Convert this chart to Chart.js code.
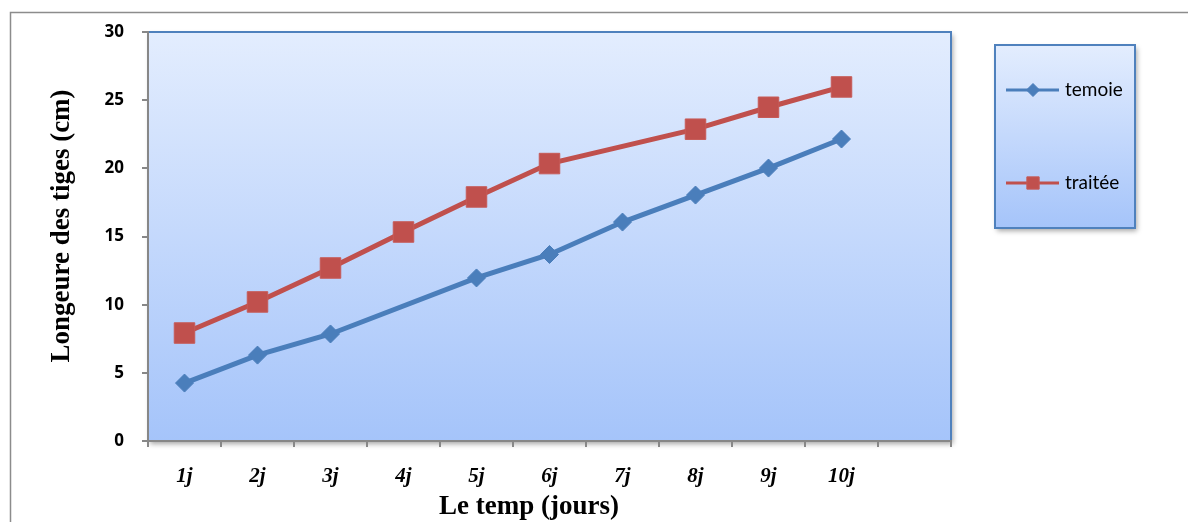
<!DOCTYPE html>
<html>
<head>
<meta charset="utf-8">
<script src="https://cdn.jsdelivr.net/npm/chart.js@4.4.1/dist/chart.umd.min.js"></script>
<style>
  html, body { margin: 0; padding: 0; background: #ffffff; }
  #wrap { width: 1188px; height: 522px; position: relative; }
</style>
</head>
<body>
<div id="wrap"><canvas id="c"></canvas></div>
<script>
// ---- data ----
const categories = ['1j', '2j', '3j', '4j', '5j', '6j', '7j', '8j', '9j', '10j', ''];
const temoie = [4.25, 6.3, 7.85, null, 11.96, 13.68, 16.06, 18.04, 20.02, 22.15];
const traitee = [7.92, 10.2, 12.69, 15.33, 17.9, 20.35, null, 22.87, 24.48, 25.97];
const seriesNames = ['temoie', 'traitée'];
const yTicks = [0, 5, 10, 15, 20, 25, 30];
const xTitle = 'Le temp (jours)';
const yTitle = 'Longeure des tiges (cm)';

const BLUE = '#4A7EBB';
const RED = '#C0504D';
const AXIS = '#878787';

function plotGradient(ctx, top, bottom) {
  const g = ctx.createLinearGradient(0, top, 0, bottom);
  g.addColorStop(0, '#E3EDFE');
  g.addColorStop(1, '#A5C4FA');
  return g;
}

const decor = {
  id: 'decor',
  beforeDraw(chart) {
    const { ctx, chartArea: a } = chart;
    ctx.save();
    // outer chart border
    ctx.strokeStyle = '#8C8C8C';
    ctx.lineWidth = 1.5;
    ctx.strokeRect(10.5, 12.5, 1300, 600);
    // plot area with shadow
    ctx.shadowColor = 'rgba(0,0,0,0.35)';
    ctx.shadowBlur = 5;
    ctx.shadowOffsetX = 2;
    ctx.shadowOffsetY = 3;
    ctx.fillStyle = plotGradient(ctx, a.top, a.bottom);
    ctx.fillRect(a.left, a.top, a.right - a.left, a.bottom - a.top);
    ctx.restore();
    ctx.save();
    ctx.strokeStyle = '#4F81BD';
    ctx.lineWidth = 2;
    ctx.beginPath();
    ctx.moveTo(a.left, a.top);
    ctx.lineTo(a.right, a.top);
    ctx.lineTo(a.right, a.bottom);
    ctx.stroke();
    ctx.restore();
  },
  afterDraw(chart) {
    const { ctx } = chart;
    ctx.save();
    // axis titles
    ctx.fillStyle = '#000';
    ctx.font = 'bold 27px "Liberation Serif", serif';
    ctx.textAlign = 'center';
    ctx.textBaseline = 'alphabetic';
    ctx.fillText(xTitle, 529, 514);
    ctx.translate(69, 226);
    ctx.rotate(-Math.PI / 2);
    ctx.fillText(yTitle, 0, 0);
    ctx.restore();

    // legend box
    const lx = 995, ly = 45, lw = 140, lh = 183;
    ctx.save();
    ctx.shadowColor = 'rgba(0,0,0,0.35)';
    ctx.shadowBlur = 5;
    ctx.shadowOffsetX = 2;
    ctx.shadowOffsetY = 3;
    ctx.fillStyle = plotGradient(ctx, ly, ly + lh);
    ctx.fillRect(lx, ly, lw, lh);
    ctx.restore();
    ctx.save();
    ctx.strokeStyle = '#4F81BD';
    ctx.lineWidth = 2;
    ctx.strokeRect(lx, ly, lw, lh);
    const rows = [90, 183];
    const markerR = [6.5, 8.7];
    chart.data.datasets.forEach((ds, i) => {
      const y = rows[i];
      ctx.strokeStyle = ds.borderColor;
      ctx.lineWidth = 3;
      ctx.beginPath();
      ctx.moveTo(1006, y);
      ctx.lineTo(1059, y);
      ctx.stroke();
      ctx.fillStyle = ds.pointBackgroundColor;
      ctx.strokeStyle = ds.pointBorderColor;
      ctx.lineWidth = 1;
      Chart.helpers.drawPoint(ctx, { pointStyle: ds.pointStyle, radius: markerR[i], rotation: 0, borderWidth: 1 }, 1033, y);
      ctx.fillStyle = '#000';
      ctx.font = '19px Lato, sans-serif';
      ctx.textAlign = 'left';
      ctx.textBaseline = 'middle';
      ctx.fillText(ds.label, 1065, y);
    });
    ctx.restore();
  }
};

new Chart(document.getElementById('c'), {
  type: 'line',
  data: {
    labels: categories,
    datasets: [
      {
        label: seriesNames[0], data: temoie,
        borderColor: BLUE, borderWidth: 5,
        pointStyle: 'rectRot', pointRadius: 9, pointHoverRadius: 9,
        pointBackgroundColor: BLUE, pointBorderColor: BLUE, pointBorderWidth: 1,
        spanGaps: true, tension: 0
      },
      {
        label: seriesNames[1], data: traitee,
        borderColor: RED, borderWidth: 5,
        pointStyle: 'rect', pointRadius: 14.5, pointHoverRadius: 14.5,
        pointBackgroundColor: RED, pointBorderColor: '#C65A57', pointBorderWidth: 1,
        spanGaps: true, tension: 0
      }
    ]
  },
  options: {
    responsive: true,
    maintainAspectRatio: false,
    animation: false,
    events: [],
    layout: { padding: { left: 0, top: 32, right: 237, bottom: 0 } },
    plugins: { legend: { display: false }, tooltip: { enabled: false }, title: { display: false } },
    scales: {
      x: {
        type: 'category',
        offset: true,
        grid: { display: true, drawOnChartArea: false, drawTicks: true, tickLength: 6, color: AXIS, lineWidth: 2, offset: true },
        border: { display: true, color: AXIS, width: 2 },
        ticks: {
          autoSkip: false, maxRotation: 0, minRotation: 0, padding: 17,
          color: '#000',
          font: { family: '"Liberation Serif", serif', size: 21, weight: 'bold', style: 'italic' }
        },
        afterFit(s) { s.height = 81; }
      },
      y: {
        min: 0, max: 30,
        afterBuildTicks(s) { s.ticks = yTicks.map(v => ({ value: v })); },
        grid: { display: true, drawOnChartArea: false, drawTicks: true, tickLength: 6, color: AXIS, lineWidth: 2 },
        border: { display: true, color: AXIS, width: 2 },
        ticks: {
          padding: 18, color: '#000',
          font: { family: '"Open Sans", sans-serif', size: 17, weight: 'bold' }
        },
        afterFit(s) { s.width = 148; }
      }
    }
  },
  plugins: [decor]
});
</script>
</body>
</html>
